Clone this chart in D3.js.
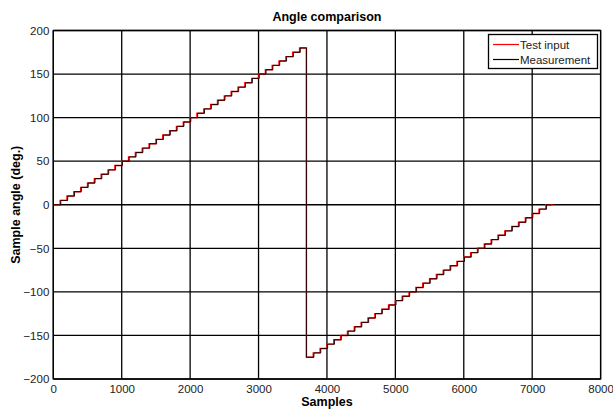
<!DOCTYPE html>
<html><head><meta charset="utf-8">
<script src="https://cdn.jsdelivr.net/npm/d3@7"></script>
<style>body{margin:0;background:#fff;} text{font-family:"Liberation Sans",Arial,sans-serif;}</style>
</head><body><svg id="c" width="613" height="410"></svg>
<script>
// Step start samples and levels (deg.)
const testSamples = [0,100,200,300,400,500,600,700,800,900,1000,1100,1200,1300,1400,1500,1600,1700,1800,1900,2000,2100,2200,2300,2400,2500,2600,2700,2800,2900,3000,3100,3200,3300,3400,3500,3600,3700,3800,3900,4000,4100,4200,4300,4400,4500,4600,4700,4800,4900,5000,5100,5200,5300,5400,5500,5600,5700,5800,5900,6000,6100,6200,6300,6400,6500,6600,6700,6800,6900,7000,7100,7200,7300];
const testValues = [0,5,10,15,20,25,30,35,40,45,50,55,60,65,70,75,80,85,90,95,100,105,110,115,120,125,130,135,140,145,150,155,160,165,170,175,180,-175,-170,-165,-160,-155,-150,-145,-140,-135,-130,-125,-120,-115,-110,-105,-100,-95,-90,-85,-80,-75,-70,-65,-60,-55,-50,-45,-40,-35,-30,-25,-20,-15,-10,-5,0,0];
const measSamples = [0,110,210,310,410,510,610,710,810,910,1010,1110,1210,1310,1410,1510,1610,1710,1810,1910,2010,2110,2210,2310,2410,2510,2610,2710,2810,2910,3010,3110,3210,3310,3410,3510,3610,3700,3810,3910,4010,4110,4210,4310,4410,4510,4610,4710,4810,4910,5010,5110,5210,5310,5410,5510,5610,5710,5810,5910,6010,6110,6210,6310,6410,6510,6610,6710,6810,6910,7010,7110,7210,7280];
const measValues = testValues;
const xTicks = [0,1000,2000,3000,4000,5000,6000,7000,8000];
const yTicks = [-200,-150,-100,-50,0,50,100,150,200];
const seriesNames = ["Test input","Measurement"];
const seriesColors = ["#ff0000","#000000"];

const svg = d3.select("#c");
const L=53.3, R=600.6, T=30.5, B=379;
const x = d3.scaleLinear().domain([0,8000]).range([L,R]);
const y = d3.scaleLinear().domain([-200,200]).range([B,T]);

svg.append("rect").attr("x",0).attr("y",0).attr("width",613).attr("height",410).attr("fill","#fff");

// grid
const g = svg.append("g");
g.selectAll(".gx").data(xTicks).enter().append("line")
 .attr("x1",d=>x(d)).attr("x2",d=>x(d)).attr("y1",T).attr("y2",B)
 .attr("stroke","#000").attr("stroke-width",1.3);
g.selectAll(".gy").data(yTicks).enter().append("line")
 .attr("y1",d=>y(d)).attr("y2",d=>y(d)).attr("x1",L).attr("x2",R)
 .attr("stroke","#000").attr("stroke-width",1.3);

// axes
const xa = svg.append("g").attr("transform",`translate(0,${B})`)
 .call(d3.axisBottom(x).tickValues(xTicks).tickSize(0).tickPadding(6).tickFormat(d3.format("d")));
const ya = svg.append("g").attr("transform",`translate(${L},0)`)
 .call(d3.axisLeft(y).tickValues(yTicks).tickSize(0).tickPadding(4).tickFormat(d3.format("d")));
[xa,ya].forEach(a=>{a.select(".domain").remove(); a.selectAll("text").attr("font-size",11.5).attr("fill","#222").attr("font-family","Liberation Sans, Arial, sans-serif");});

// series
const line = d3.line().curve(d3.curveStepAfter).x(d=>x(d[0])).y(d=>y(d[1]));
const testData = testSamples.map((s,i)=>[s,testValues[i]]);
const measData = measSamples.map((s,i)=>[s,measValues[i]]);
svg.append("path").attr("d",line(testData)).attr("fill","none").attr("stroke",seriesColors[0]).attr("stroke-width",1.4);
svg.append("path").attr("d",line(measData)).attr("fill","none").attr("stroke",seriesColors[1]).attr("stroke-width",1).attr("opacity",0.85);

// frame
svg.append("rect").attr("x",L).attr("y",T).attr("width",R-L).attr("height",B-T)
 .attr("fill","none").attr("stroke","#000").attr("stroke-width",1.3);

// labels
svg.append("text").attr("x",(L+R)/2).attr("y",21).attr("text-anchor","middle")
 .attr("font-size",12.5).attr("font-weight","bold").text("Angle comparison");
svg.append("text").attr("x",(L+R)/2).attr("y",406).attr("text-anchor","middle")
 .attr("font-size",12.5).attr("font-weight","bold").text("Samples");
svg.append("text").attr("transform",`translate(20,${(T+B)/2}) rotate(-90)`).attr("text-anchor","middle")
 .attr("font-size",12.5).attr("font-weight","bold").text("Sample angle (deg.)");

// legend
const lg = svg.append("g");
lg.append("rect").attr("x",488.5).attr("y",34.5).attr("width",109).attr("height",34)
 .attr("fill","#fff").attr("stroke","#000").attr("stroke-width",1.3);
seriesNames.forEach((n,i)=>{
  const yy = 44.5 + i*15;
  lg.append("line").attr("x1",493).attr("x2",519).attr("y1",yy).attr("y2",yy)
    .attr("stroke",seriesColors[i]).attr("stroke-width",1.2);
  lg.append("text").attr("x",520).attr("y",yy+4).attr("font-size",11.5).attr("fill","#222").text(n);
});
</script></body></html>
